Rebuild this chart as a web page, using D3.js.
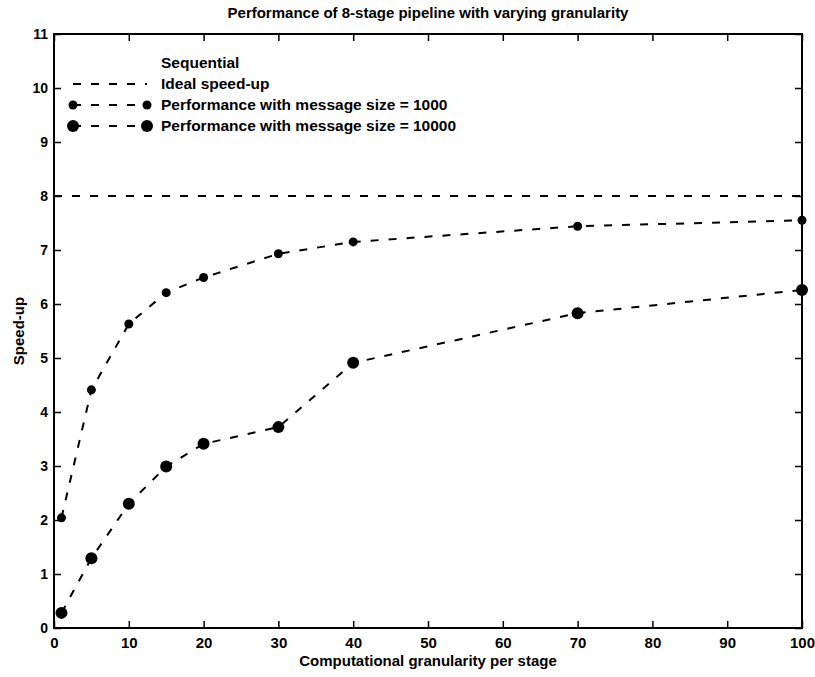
<!doctype html>
<html lang="en">
<head>
  <meta charset="UTF-8">
  <title>Performance of 8-stage pipeline</title>
<style>
  body{ margin: 0; background: #fff; }
  svg text{
    font-family: "Liberation Sans", Arial, Helvetica, sans-serif;
    font-weight: bold;
    fill: #000;
  }
  .axis path{ display: none; }
  .axis line{ stroke: #000; stroke-width: 1.5px; }
  .x.axis .tick text{ font-size: 15px; }
  .y.axis .tick text{ font-size: 14px; }
  .frame{ fill: none; stroke: #000; stroke-width: 2px; }
  .line{ fill: none; stroke: #000; stroke-width: 2px; stroke-dasharray: 8,10; }
</style>
</head>

<body>
<script src="https://d3js.org/d3.v7.min.js"></script>

<script>
// data
var granularity = [1, 5, 10, 15, 20, 30, 40, 70, 100];
var speedup1000 = [2.04, 4.41, 5.63, 6.21, 6.49, 6.93, 7.15, 7.44, 7.55];
var speedup10000 = [0.28, 1.29, 2.30, 2.99, 3.41, 3.72, 4.91, 5.83, 6.26];
var idealX = [0, 100];
var idealY = [8, 8];

var xTicks = [0, 10, 20, 30, 40, 50, 60, 70, 80, 90, 100];
var yTicks = [0, 1, 2, 3, 4, 5, 6, 7, 8, 9, 10, 11];

var legendLabels = [
  "Sequential",
  "Ideal speed-up",
  "Performance with message size = 1000",
  "Performance with message size = 10000"
];

var margin = {top: 34, right: 13, bottom: 49, left: 54},
    width = 815 - margin.left - margin.right,
    height = 677 - margin.top - margin.bottom;

var xScale = d3.scaleLinear().domain([0, 100]).range([0, width]);
var yScale = d3.scaleLinear().domain([0, 11]).range([height, 0]);

var svg = d3.select("body").append("svg")
    .attr("width", 815)
    .attr("height", 677)
  .append("g")
    .attr("transform", "translate(" + margin.left + "," + margin.top + ")");

// axes with inward ticks on all four sides
svg.append("g")
    .attr("class", "x axis")
    .attr("transform", "translate(0," + height + ")")
    .call(d3.axisBottom(xScale).tickValues(xTicks).tickSize(-7).tickPadding(9));

svg.append("g")
    .attr("class", "x axis")
    .call(d3.axisTop(xScale).tickValues(xTicks).tickSize(-7).tickFormat(""));

svg.append("g")
    .attr("class", "y axis")
    .call(d3.axisLeft(yScale).tickValues(yTicks).tickSize(-7).tickPadding(6));

svg.append("g")
    .attr("class", "y axis")
    .attr("transform", "translate(" + width + ",0)")
    .call(d3.axisRight(yScale).tickValues(yTicks).tickSize(-7).tickFormat(""));

svg.append("rect")
    .attr("class", "frame")
    .attr("width", width)
    .attr("height", height);

var line = d3.line()
    .x(function(d) { return xScale(d[0]); })
    .y(function(d) { return yScale(d[1]); });

svg.append("path")
    .datum(d3.zip(idealX, idealY))
    .attr("class", "line")
    .attr("d", line);

var series = [
  {values: speedup1000, r: 4.5},
  {values: speedup10000, r: 6}
];

series.forEach(function(s) {
  var pts = d3.zip(granularity, s.values);
  svg.append("path")
      .datum(pts)
      .attr("class", "line")
      .attr("d", line);
  svg.selectAll(null)
      .data(pts)
    .enter().append("circle")
      .attr("cx", function(d) { return xScale(d[0]); })
      .attr("cy", function(d) { return yScale(d[1]); })
      .attr("r", s.r)
      .attr("fill", "#000");
});

// legend
var legend = svg.append("g").attr("transform", "translate(19,29)");
legendLabels.forEach(function(label, i) {
  var y = i * 21;
  if (i >= 1) {
    legend.append("line")
        .attr("class", "line")
        .attr("x1", 0).attr("x2", 74)
        .attr("y1", y).attr("y2", y);
  }
  if (i >= 2) {
    var r = series[i - 2].r;
    legend.selectAll(null)
        .data([0, 74])
      .enter().append("circle")
        .attr("cx", function(d) { return d; })
        .attr("cy", y)
        .attr("r", r)
        .attr("fill", "#000");
  }
  legend.append("text")
      .attr("x", 88)
      .attr("y", y)
      .attr("dy", "0.35em")
      .style("font-size", "15.5px")
      .text(label);
});

// title and axis labels
svg.append("text")
    .attr("x", width / 2)
    .attr("y", -16)
    .attr("text-anchor", "middle")
    .style("font-size", "15px")
    .text("Performance of 8-stage pipeline with varying granularity");

svg.append("text")
    .attr("x", width / 2)
    .attr("y", height + 38)
    .attr("text-anchor", "middle")
    .style("font-size", "15px")
    .text("Computational granularity per stage");

svg.append("text")
    .attr("transform", "translate(-30," + (height / 2) + ") rotate(-90)")
    .attr("text-anchor", "middle")
    .style("font-size", "15px")
    .text("Speed-up");
</script>
</body>
</html>
